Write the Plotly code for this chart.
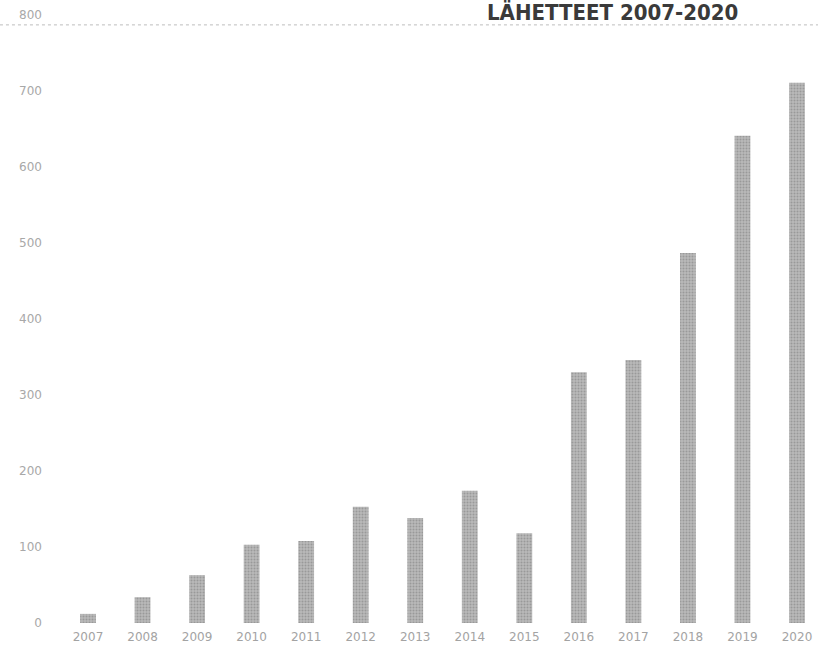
import plotly.graph_objects as go

years = [2007, 2008, 2009, 2010, 2011, 2012, 2013, 2014, 2015, 2016, 2017, 2018, 2019, 2020]
referrals = [12, 34, 63, 103, 108, 153, 138, 174, 118, 330, 346, 487, 641, 711]
y_ticks = [0, 100, 200, 300, 400, 500, 600, 700, 800]
title_text = "LÄHETTEET 2007-2020"

fig = go.Figure()
fig.add_trace(go.Bar(
    x=years, y=referrals, width=0.29,
    marker=dict(color="#ababab", line=dict(width=0),
                pattern=dict(shape=".", size=3, solidity=0.35,
                             fgcolor="#7a7a7a", bgcolor="#b9b9b9")),
))

fig.add_shape(type="line", xref="paper", x0=-0.08, x1=1, yref="y", y0=787, y1=787,
              line=dict(color="#bdbdbd", width=1, dash="dot"))

fig.add_annotation(text="<b>" + title_text + "</b>", xref="x", x=2016.62, yref="paper", y=1,
                   yanchor="top", yshift=16, showarrow=False, borderpad=0,
                   font=dict(family="DejaVu Sans Condensed, Liberation Sans Narrow, sans-serif",
                             size=22, color="#3a3a3a"))

fig.update_layout(
    width=818, height=655,
    margin=dict(l=55, r=0, t=15, b=32),
    paper_bgcolor="white", plot_bgcolor="white",
    showlegend=False,
    font=dict(family="DejaVu Sans, sans-serif", size=12, color="#9a9a9a"),
    xaxis=dict(range=[2006.395, 2020.385], tickmode="array", tickvals=years,
               ticktext=[str(v) for v in years], showgrid=False, zeroline=False,
               showline=False, ticks="", ticklabelstandoff=5,
               tickfont=dict(size=12, color="#a3a3a3")),
    yaxis=dict(range=[0, 800], tickmode="array", tickvals=y_ticks,
               ticktext=[str(v) for v in y_ticks], showgrid=False, zeroline=False,
               showline=False, ticks="", ticklabelstandoff=12,
               tickfont=dict(size=12, color="#a8a8a8")),
    bargap=0.7,
)

fig.write_html("out.html")
